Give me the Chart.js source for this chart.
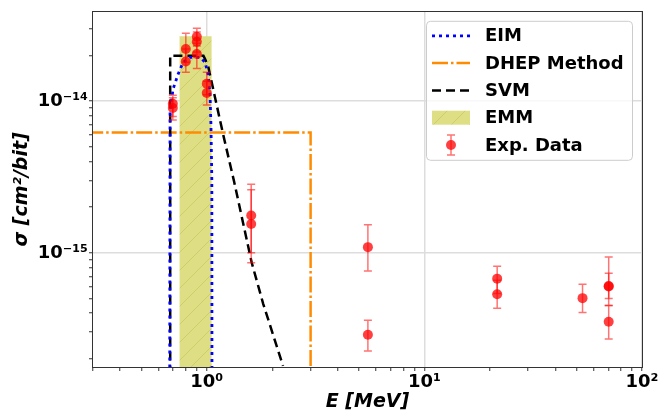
<!DOCTYPE html>
<html>
<head>
<meta charset="utf-8">
<script src="https://cdn.jsdelivr.net/npm/chart.js@4.4.0/dist/chart.umd.min.js"></script>
<style>
  html, body { margin: 0; padding: 0; background: #fff; }
</style>
</head>
<body>
<canvas id="chart" width="662" height="410"></canvas>
<script>
// curves
const eimX = [0.674, 0.678, 0.700, 0.738, 0.778, 0.838, 0.932, 0.982, 1.014, 1.035, 1.045, 1.055, 1.058];
const eimY = [1e-17, 8.5e-15, 1.2e-14, 1.5e-14, 1.8e-14, 1.94e-14, 1.94e-14, 1.8e-14, 1.5e-14, 1.09e-14, 7e-15, 3e-15, 1e-17];

const dhepX = [0.1, 3.0, 3.0];
const dhepY = [6.2e-15, 6.2e-15, 1e-17];

const svmX = [0.679, 0.679, 0.965, 0.982, 1.017, 1.191, 1.335, 1.609, 1.818, 2.24];
const svmY = [1e-17, 1.99e-14, 1.99e-14, 1.89e-14, 1.67e-14, 5.96e-15, 2.95e-15, 8.6e-16, 4.6e-16, 1.8e-16];

const emmX = [0.748, 1.054];
const emmY = [2.67e-14, 2.67e-14];

// experimental points with error bars
const expX  = [0.698, 0.698, 0.801, 0.801, 0.90, 0.90, 0.90, 1.0, 1.0, 1.6, 1.6, 5.5, 5.5, 21.6, 21.6, 53.3, 70.3, 70.3, 70.3];
const expY  = [9.6e-15, 9.0e-15, 2.2e-14, 1.82e-14, 2.65e-14, 2.46e-14, 2.04e-14, 1.30e-14, 1.13e-14, 1.76e-15, 1.55e-15, 1.09e-15, 2.89e-16, 6.76e-16, 5.34e-16, 5.03e-16, 6.05e-16, 6.0e-16, 3.52e-16];
const expLo = [7.5e-15, 7.9e-15, 1.8e-14, 1.55e-14, 2.3e-14, 2.1e-14, 1.64e-14, 1.1e-14, 9.4e-15, 8.6e-16, 1.0e-15, 7.6e-16, 2.26e-16, 5.4e-16, 4.32e-16, 4.05e-16, 4.5e-16, 5.0e-16, 2.71e-16];
const expHi = [1.09e-14, 1.05e-14, 2.79e-14, 2.2e-14, 3.02e-14, 2.85e-14, 2.4e-14, 1.55e-14, 1.35e-14, 2.83e-15, 2.6e-15, 1.53e-15, 3.6e-16, 8.15e-16, 6.6e-16, 6.21e-16, 9.4e-16, 7.33e-16, 4.5e-16];

// axes
const xMin = 0.3, xMax = 100;
const yMin = 1.77e-16, yMax = 3.87e-14;
const xMajor = [1, 10, 100];
const xMajorLabels = ['10⁰', '10¹', '10²'];
const xMinor = [0.3, 0.4, 0.5, 0.6, 0.7, 0.8, 0.9, 2, 3, 4, 5, 6, 7, 8, 9, 20, 30, 40, 50, 60, 70, 80, 90];
const yMajor = [1e-15, 1e-14];
const yMajorLabels = ['10⁻¹⁵', '10⁻¹⁴'];
const yMinor = [2e-16, 3e-16, 4e-16, 5e-16, 6e-16, 7e-16, 8e-16, 9e-16, 2e-15, 3e-15, 4e-15, 5e-15, 6e-15, 7e-15, 8e-15, 9e-15, 2e-14, 3e-14];

const pts = (xs, ys) => xs.map((x, i) => ({x: x, y: ys[i]}));

function makeHatch(){
    const c = document.createElement('canvas');
    c.width = 18; c.height = 18;
    const g = c.getContext('2d');
    g.fillStyle = '#dede84';
    g.fillRect(0, 0, 18, 18);
    g.strokeStyle = '#cdcd6c';
    g.lineWidth = 1;
    g.beginPath();
    g.moveTo(0, 18); g.lineTo(18, 0);
    g.moveTo(-9, 9); g.lineTo(9, -9);
    g.moveTo(9, 27); g.lineTo(27, 9);
    g.stroke();
    return g.createPattern(c, 'repeat');
}
const hatch = makeHatch();

const styles = {
    eim: {color: '#0000ff', dash: [3, 4], width: 2.8},
    dhep: {color: '#ff8c00', dash: [16, 3, 2.5, 3], width: 2.5},
    svm: {color: '#000000', dash: [9, 5], width: 2.5}
};

const errorBars = {
    id: 'errorBars',
    beforeDatasetDraw(chart, args) {
        if (chart.data.datasets[args.index].label !== 'Exp. Data') return;
        const {ctx, chartArea, scales: {x, y}} = chart;
        ctx.save();
        ctx.beginPath();
        ctx.rect(chartArea.left, chartArea.top, chartArea.width, chartArea.height);
        ctx.clip();
        ctx.strokeStyle = 'rgba(255,0,0,0.55)';
        ctx.lineWidth = 1.5;
        expX.forEach((v, i) => {
            const px = x.getPixelForValue(v);
            const top = y.getPixelForValue(expHi[i]);
            const bot = y.getPixelForValue(expLo[i]);
            ctx.beginPath();
            ctx.moveTo(px, top); ctx.lineTo(px, bot);
            ctx.moveTo(px - 4, top); ctx.lineTo(px + 4, top);
            ctx.moveTo(px - 4, bot); ctx.lineTo(px + 4, bot);
            ctx.stroke();
        });
        ctx.restore();
    }
};

const frameAndLegend = {
    id: 'frameAndLegend',
    afterDatasetsDraw(chart) {
        const {ctx, chartArea: a} = chart;
        ctx.save();
        ctx.strokeStyle = '#333';
        ctx.lineWidth = 1;
        ctx.strokeRect(Math.round(a.left) - 0.5, Math.round(a.top) - 0.5, Math.round(a.width) + 1, Math.round(a.height) + 1);
        ctx.restore();
    },
    afterDraw(chart) {
        const {ctx, chartArea: a} = chart;
        const bw = 206, bh = 139;
        const bx = a.right - 10 - bw, by = a.top + 9;
        ctx.save();
        ctx.beginPath();
        ctx.roundRect(bx + 0.5, by + 0.5, bw, bh, 4);
        ctx.fillStyle = 'rgba(255,255,255,0.8)';
        ctx.fill();
        ctx.strokeStyle = '#cccccc';
        ctx.lineWidth = 1;
        ctx.stroke();

        const labels = ['EIM', 'DHEP Method', 'SVM', 'EMM', 'Exp. Data'];
        const x0 = bx + 6, x1 = bx + 44;
        labels.forEach((lab, i) => {
            const yy = by + 15 + i * 27.3;
            if (i < 3) {
                const s = [styles.eim, styles.dhep, styles.svm][i];
                ctx.beginPath();
                ctx.setLineDash(s.dash);
                ctx.strokeStyle = s.color;
                ctx.lineWidth = s.width;
                ctx.moveTo(x0, yy); ctx.lineTo(x1, yy);
                ctx.stroke();
                ctx.setLineDash([]);
            } else if (i === 3) {
                ctx.fillStyle = hatch;
                ctx.fillRect(x0, yy - 7, x1 - x0, 14);
            } else {
                const cx = (x0 + x1) / 2;
                ctx.strokeStyle = 'rgba(255,0,0,0.55)';
                ctx.lineWidth = 1.5;
                ctx.beginPath();
                ctx.moveTo(cx, yy - 10); ctx.lineTo(cx, yy + 10);
                ctx.moveTo(cx - 4, yy - 10); ctx.lineTo(cx + 4, yy - 10);
                ctx.moveTo(cx - 4, yy + 10); ctx.lineTo(cx + 4, yy + 10);
                ctx.stroke();
                ctx.beginPath();
                ctx.arc(cx, yy, 5, 0, Math.PI * 2);
                ctx.fillStyle = 'rgba(255,0,0,0.75)';
                ctx.fill();
            }
            ctx.fillStyle = '#000';
            ctx.font = 'bold 18px "DejaVu Sans"';
            ctx.textBaseline = 'middle';
            ctx.fillText(lab, bx + 59, yy + 1);
        });
        ctx.restore();
    }
};

const gridColor = (c) => (c.tick && c.tick.major) ? '#dddddd' : 'rgba(0,0,0,0)';

Chart.defaults.font.family = '"DejaVu Sans"';

new Chart(document.getElementById('chart'), {
    type: 'line',
    data: {
        datasets: [
            {
                label: 'EIM', data: pts(eimX, eimY), order: 1,
                borderColor: styles.eim.color, borderDash: styles.eim.dash, borderWidth: styles.eim.width,
                pointRadius: 0, fill: false, tension: 0, clip: 0
            },
            {
                label: 'DHEP Method', data: pts(dhepX, dhepY), order: 3,
                borderColor: styles.dhep.color, borderDash: styles.dhep.dash, borderWidth: styles.dhep.width,
                pointRadius: 0, fill: false, tension: 0, clip: 0
            },
            {
                label: 'SVM', data: pts(svmX, svmY), order: 2,
                borderColor: styles.svm.color, borderDash: styles.svm.dash, borderWidth: styles.svm.width,
                pointRadius: 0, fill: false, tension: 0, clip: 0
            },
            {
                label: 'EMM', data: pts(emmX, emmY), order: 4,
                borderWidth: 0, borderColor: 'rgba(0,0,0,0)', backgroundColor: hatch,
                pointRadius: 0, fill: 'start', tension: 0, clip: 0
            },
            {
                label: 'Exp. Data', data: pts(expX, expY), order: 0,
                showLine: false, pointRadius: 5, pointBorderWidth: 0,
                pointBackgroundColor: 'rgba(255,0,0,0.75)', pointBorderColor: 'rgba(0,0,0,0)', clip: 0
            }
        ]
    },
    options: {
        responsive: false,
        animation: false,
        devicePixelRatio: 1,
        layout: {padding: {top: 7, right: 20, left: 1, bottom: 0}},
        plugins: {legend: {display: false}, tooltip: {enabled: false}},
        scales: {
            x: {
                type: 'logarithmic', min: xMin, max: xMax, bounds: 'data',
                afterFit: s => { s.height = 43; },
                afterBuildTicks: s => {
                    s.ticks = xMajor.concat(xMinor).sort((a, b) => a - b)
                        .map(v => ({value: v, major: xMajor.includes(v)}));
                },
                ticks: {
                    autoSkip: false, maxRotation: 0, padding: 1, color: '#000',
                    font: {size: 18, weight: 'bold'},
                    callback: v => { const i = xMajor.indexOf(v); return i >= 0 ? xMajorLabels[i] : ''; }
                },
                grid: {color: gridColor, lineWidth: 1.5, tickColor: '#333', tickWidth: 1, tickLength: 4},
                border: {display: false},
                title: {display: true, text: 'E [MeV]', color: '#000',
                    font: {size: 19, weight: 'bold', style: 'italic'}, padding: {top: 0, bottom: -3}}
            },
            y: {
                type: 'logarithmic', min: yMin, max: yMax, bounds: 'data',
                afterFit: s => { s.width = 92; },
                afterBuildTicks: s => {
                    s.ticks = yMajor.concat(yMinor).sort((a, b) => a - b)
                        .map(v => ({value: v, major: yMajor.includes(v)}));
                },
                ticks: {
                    autoSkip: false, padding: 1, color: '#000',
                    font: {size: 18, weight: 'bold'},
                    callback: v => { const i = yMajor.indexOf(v); return i >= 0 ? yMajorLabels[i] : ''; }
                },
                grid: {color: gridColor, lineWidth: 1.5, tickColor: '#333', tickWidth: 1, tickLength: 4},
                border: {display: false},
                title: {display: true, text: 'σ [cm²/bit]', color: '#000',
                    font: {size: 19, weight: 'bold', style: 'italic'}, padding: {top: 10, bottom: 0}}
            }
        }
    },
    plugins: [errorBars, frameAndLegend]
});
</script>
</body>
</html>
